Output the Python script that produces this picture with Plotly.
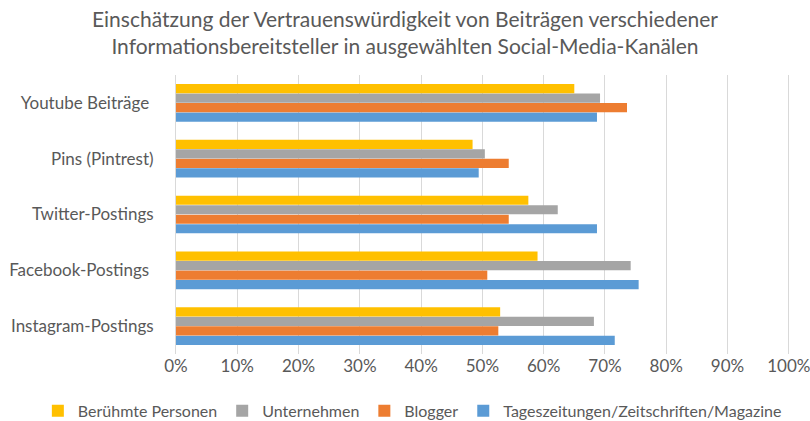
import plotly.graph_objects as go

categories = ["Instagram-Postings", "Facebook-Postings ", "Twitter-Postings", "Pins (Pintrest)", "Youtube Beiträge "]
series_names = ["Tageszeitungen/Zeitschriften/Magazine", "Blogger", "Unternehmen", "Berühmte Personen"]
tageszeitungen = [0.716, 0.755, 0.687, 0.494, 0.687]
blogger = [0.526, 0.508, 0.543, 0.543, 0.736]
unternehmen = [0.682, 0.742, 0.623, 0.504, 0.692]
beruehmte = [0.529, 0.590, 0.575, 0.484, 0.650]
tick_values = [0, 0.1, 0.2, 0.3, 0.4, 0.5, 0.6, 0.7, 0.8, 0.9, 1.0]
tick_labels = ["0%", "10%", "20%", "30%", "40%", "50%", "60%", "70%", "80%", "90%", "100%"]
colors = ["#5B9BD5", "#ED7D31", "#A5A5A5", "#FFC000"]

title_text = ("Einschätzung der Vertrauenswürdigkeit von Beiträgen verschiedener<br>"
              "Informationsbereitsteller in ausgewählten Social-Media-Kanälen")

FONT = "Lato, 'Open Sans', sans-serif"
GREY = "#595959"

fig = go.Figure()
for name, vals, col in zip(series_names, [tageszeitungen, blogger, unternehmen, beruehmte], colors):
    fig.add_trace(go.Bar(y=categories, x=vals, name=name, orientation="h",
                         marker=dict(color=col, line=dict(width=0))))

fig.update_layout(
    width=810, height=421,
    paper_bgcolor="white", plot_bgcolor="white",
    margin=dict(l=176, r=20, t=75, b=67, autoexpand=False),
    barmode="group", bargap=0.32, bargroupgap=0.03,
    font=dict(family=FONT, color=GREY, size=17),
    title=dict(text=title_text, x=0.5, xanchor="center", xref="container",
               y=0.936, yanchor="top", yref="container",
               font=dict(family=FONT, size=21, color=GREY)),
    xaxis=dict(range=[0, 1.002], tickmode="array", tickvals=tick_values, ticktext=tick_labels,
               showgrid=True, gridcolor="#D9D9D9", gridwidth=1, zeroline=False, showline=False,
               ticklabeloverflow="allow",
               tickfont=dict(size=17, color=GREY), automargin=False, fixedrange=True),
    yaxis=dict(showgrid=False, showline=True, linecolor="#D9D9D9", linewidth=1,
               ticks="", ticklabelstandoff=18,
               tickfont=dict(size=17, color=GREY), automargin=False, fixedrange=True),
    legend=dict(orientation="h", traceorder="reversed",
                x=-0.225, xanchor="left", y=-0.204, yanchor="middle",
                font=dict(size=16, color=GREY), itemwidth=30),
    showlegend=True,
)

fig.write_html("out.html", config={"displayModeBar": False},
               post_script="document.body.style.margin='0';document.body.style.overflow='hidden';")
